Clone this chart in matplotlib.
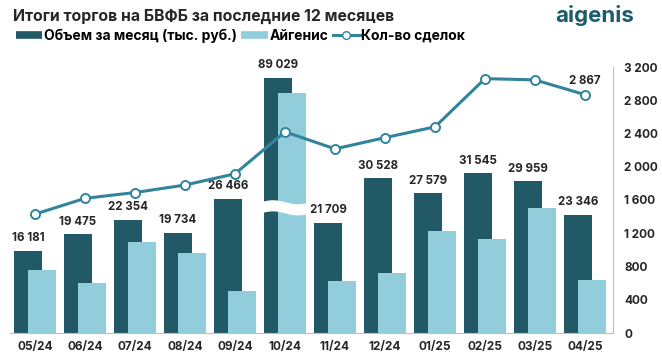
import numpy as np
import matplotlib
matplotlib.use("Agg")
import matplotlib.pyplot as plt
from matplotlib.lines import Line2D

months = ["05/24", "06/24", "07/24", "08/24", "09/24", "10/24",
          "11/24", "12/24", "01/25", "02/25", "03/25", "04/25"]
volume = [16181, 19475, 22354, 19734, 26466, 89029,
          21709, 30528, 27579, 31545, 29959, 23346]
aigenis = [12400, 9900, 17900, 15800, 8300, 86000,
           10300, 11800, 20100, 18600, 24700, 10500]
deals = [1430, 1620, 1690, 1780, 1915, 2420,
         2215, 2350, 2480, 3060, 3045, 2867]
broken = 5          # bar drawn with an axis break
break_shift = 38700  # amount cut out of the broken bar

DARK = "#215967"
LIGHT = "#92cddc"
LINE = "#31849b"
TXT = "#262626"

plt.rcParams["font.family"] = ["Inter", "DejaVu Sans"]

fig = plt.figure(figsize=(6.62, 3.61), dpi=100)
ax = fig.add_axes([10 / 662, 28 / 361, 603 / 662, 266 / 361])
ax2 = ax.twinx()

x = np.arange(len(months))
vol_disp = [v - break_shift if i == broken else v for i, v in enumerate(volume)]
aig_disp = [v - break_shift if i == broken else v for i, v in enumerate(aigenis)]

w = 0.56
ax.bar(x - 0.14, vol_disp, width=w, color=DARK, zorder=2)
ax.bar(x + 0.14, aig_disp, width=w, color=LIGHT, zorder=3)

# break mark on the 10/24 bars
xs = np.linspace(broken - 0.5, broken + 0.5, 60)
wave = 400 * np.sin((xs - xs[0]) * 2 * np.pi)
ax.fill_between(xs, 23700 + wave, 25900 + wave, color="white", zorder=4, lw=0)

for i, v in enumerate(volume):
    ax.text(x[i] - 0.14, vol_disp[i] + 1300, f"{v:,}".replace(",", " "),
            ha="center", va="bottom", fontsize=8.3, fontweight="bold", color=TXT)

ax.set_ylim(0, 52500)
ax.set_xlim(-0.5, 11.56)
ax.set_yticks([])
ax.set_xticks(x)
ax.set_xticklabels(months, fontsize=8.5, fontweight="bold", color=TXT)
ax.tick_params(axis="x", length=0, pad=6)
for s in ["top", "left", "right"]:
    ax.spines[s].set_visible(False)
ax.spines["bottom"].set_color("#bfbfbf")

ax2.plot(x, deals, color=LINE, lw=2.2, marker="o", ms=6.5,
         mfc="white", mec=LINE, mew=1.4, zorder=5)
ax2.text(x[-1], deals[-1] + 90, f"{deals[-1]:,}".replace(",", " "),
         ha="center", va="bottom", fontsize=8.3, fontweight="bold", color=TXT)
ax2.set_ylim(0, 3200)
ax2.set_yticks(range(0, 3201, 400))
ax2.set_yticklabels([f"{t:,}".replace(",", " ") for t in range(0, 3201, 400)],
                    fontsize=8.5, fontweight="bold", color=TXT)
ax2.tick_params(axis="y", length=0, pad=8)
for s in ["top", "left", "bottom"]:
    ax2.spines[s].set_visible(False)
ax2.spines["right"].set_color("#bfbfbf")

fig.text(13 / 662, 1 - 16 / 361, "Итоги торгов на БВФБ за последние 12 месяцев",
         fontsize=11.4, fontweight="bold", color=TXT, va="center")
fig.text(634 / 662, 1 - 15 / 361, "aigenis", fontsize=16, fontweight="bold",
         color="#1b5b6c", ha="right", va="center")

handles = [Line2D([], [], color=DARK, lw=5.5, solid_capstyle="butt"),
           Line2D([], [], color=LIGHT, lw=5.5, solid_capstyle="butt"),
           Line2D([], [], color=LINE, lw=2.2, marker="o", ms=5.5, mfc="white", mec=LINE)]
labels = ["Объем за месяц (тыс. руб.)", "Айгенис", "Кол-во сделок"]
fig.legend(handles, labels, loc="center left", bbox_to_anchor=(3 / 662, 1 - 36 / 361),
           ncol=3, frameon=False, handlelength=1.9, handletextpad=0.12,
           columnspacing=0.35, prop={"weight": "bold", "size": 10})

fig.savefig("out.png", dpi=100)
